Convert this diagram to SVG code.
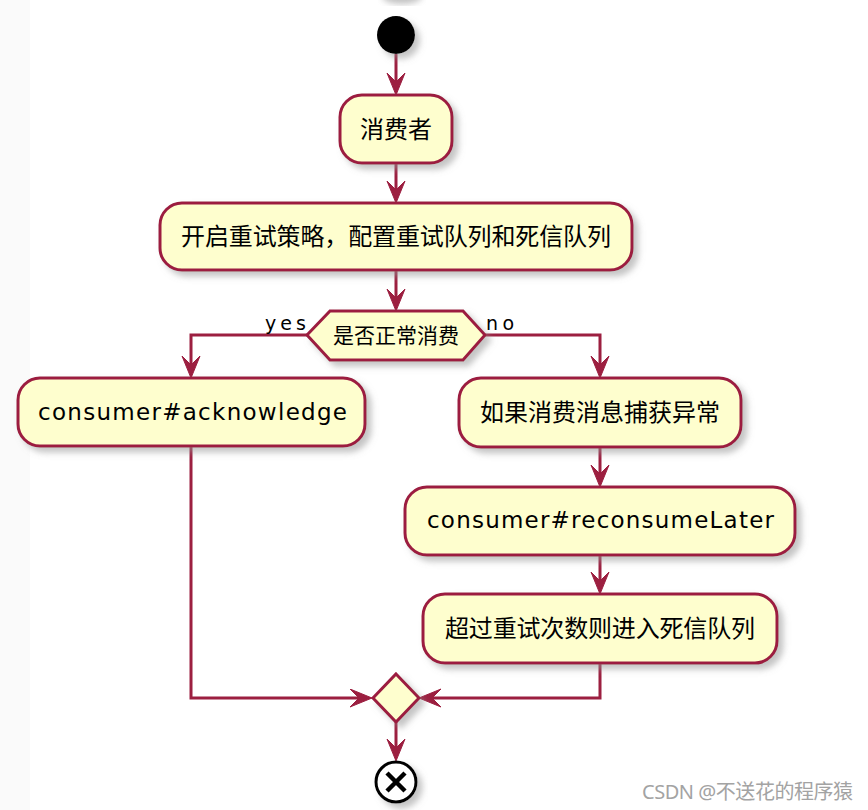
<svg xmlns="http://www.w3.org/2000/svg" width="868" height="810" viewBox="0 0 868 810">
<defs>
<filter id="sh" x="-20%" y="-20%" width="150%" height="160%">
<feGaussianBlur in="SourceAlpha" stdDeviation="3"/>
<feOffset dx="5" dy="5" result="b"/>
<feColorMatrix in="b" type="matrix" values="0 0 0 0 0.3  0 0 0 0 0.3  0 0 0 0 0.3  0 0 0 0.55 0"/>
<feMerge><feMergeNode/><feMergeNode in="SourceGraphic"/></feMerge>
</filter>
<filter id="blur"><feGaussianBlur stdDeviation="3"/></filter>
<marker id="ah" markerUnits="userSpaceOnUse" markerWidth="24" markerHeight="20" viewBox="0 0 24 20" refX="9" refY="9.5" orient="auto">
<path d="M0,0.5 L22,9.5 L0,18.5 L9,9.5 Z" fill="#9C1F40" stroke="#9C1F40" stroke-width="1"/>
</marker>
</defs>
<style>
.box{fill:#FEFECE;stroke:#9C1F40;stroke-width:3;filter:url(#sh)}
.edge{fill:none;stroke:#9C1F40;stroke-width:3;marker-end:url(#ah)}
.cjk{font-family:"Noto Sans CJK SC","Noto Sans",sans-serif;fill:#000;text-anchor:middle}
.lat{font-family:"DejaVu Sans","Noto Sans",sans-serif;fill:#000}
</style>
<rect x="0" y="0" width="868" height="810" fill="#ffffff"/>
<rect x="0" y="0" width="30" height="810" fill="#fafafa"/>
<ellipse cx="402" cy="-4" rx="20" ry="8" fill="#999" opacity="0.6" filter="url(#blur)"/>

<g id="connectors">
<path class="edge" d="M396,54 V82"/>
<path class="edge" d="M396,163 V190"/>
<path class="edge" d="M396,270 V298"/>
<path class="edge" d="M307,335 H191 V365"/>
<path class="edge" d="M485,335 H600 V365"/>
<path class="edge" d="M600,447 V474"/>
<path class="edge" d="M600,555 V581"/>
<path class="edge" d="M191,446 V698 H359"/>
<path class="edge" d="M600,663 V698 H432"/>
<path class="edge" d="M396,722 V748"/>
<text class="lat" x="265" y="330" font-size="19" textLength="41">yes</text>
<text class="lat" x="486" y="330" font-size="19" textLength="28">no</text>
</g>

<g id="start">
<circle cx="396" cy="35" r="19" fill="#000" filter="url(#sh)"/>
</g>

<g id="consumer">
<rect class="box" x="340" y="95" width="112" height="68" rx="22"/>
<text class="cjk" x="396" y="138" font-size="24">消费者</text>
</g>

<g id="enableRetry">
<rect class="box" x="160" y="203" width="472" height="67" rx="22"/>
<text class="cjk" x="396" y="245" font-size="24" textLength="430">开启重试策略，配置重试队列和死信队列</text>
</g>

<g id="decision">
<polygon class="box" points="307,335 330,311 463,311 485,335 463,360 330,360"/>
<text class="cjk" x="396" y="343" font-size="21">是否正常消费</text>
</g>

<g id="acknowledge">
<rect class="box" x="18" y="378" width="347" height="68" rx="22"/>
<text class="lat" x="38" y="420" font-size="23" textLength="309">consumer#acknowledge</text>
</g>

<g id="catchException">
<rect class="box" x="459" y="378" width="282" height="69" rx="22"/>
<text class="cjk" x="600" y="421" font-size="24" textLength="240">如果消费消息捕获异常</text>
</g>

<g id="reconsumeLater">
<rect class="box" x="405" y="487" width="390" height="68" rx="22"/>
<text class="lat" x="427" y="528" font-size="23" textLength="347">consumer#reconsumeLater</text>
</g>

<g id="deadLetter">
<rect class="box" x="423" y="594" width="354" height="69" rx="22"/>
<text class="cjk" x="600" y="637" font-size="24" textLength="310">超过重试次数则进入死信队列</text>
</g>

<g id="merge">
<polygon class="box" points="396,674 419,698 396,722 373,698"/>
</g>

<g id="end" filter="url(#sh)">
<circle cx="396" cy="782" r="20" fill="#fff" stroke="#000" stroke-width="3"/>
<path d="M387,773 L405,791 M405,773 L387,791" stroke="#000" stroke-width="4.5" fill="none"/>
</g>

<text x="642" y="799" font-family="Noto Sans, Noto Sans CJK SC, sans-serif" font-size="20" fill="#a3a3a3" textLength="211">CSDN @不送花的程序猿</text>
</svg>
